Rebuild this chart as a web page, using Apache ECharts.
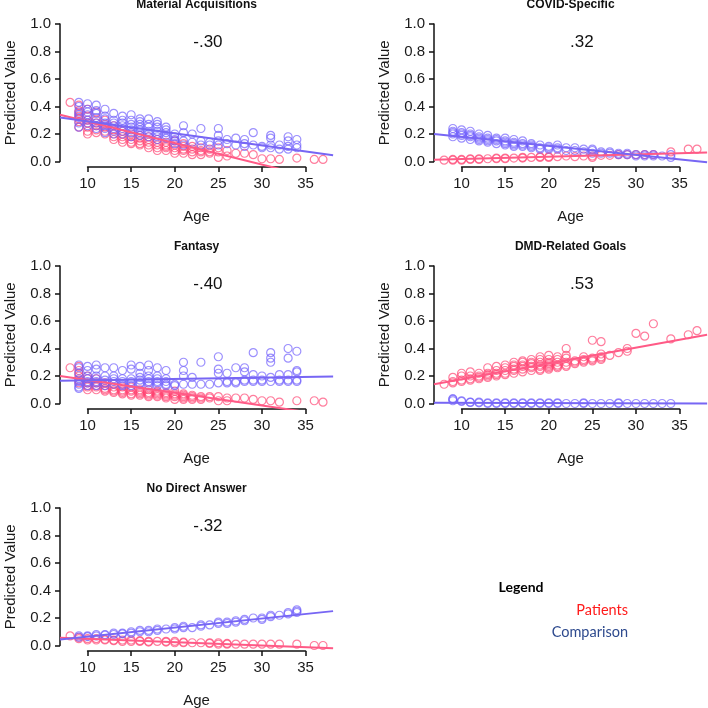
<!DOCTYPE html>
<html><head><meta charset="utf-8">
<script src="https://cdn.jsdelivr.net/npm/echarts@6/dist/echarts.min.js"></script>
<style>html,body{margin:0;padding:0;background:#fff}#c{width:708px;height:708px}</style>
</head><body><div id="c"></div>
<script>
// ---------------- DATA ----------------
const panelTitles = ['Material Acquisitions', 'COVID-Specific', 'Fantasy', 'DMD-Related Goals', 'No Direct Answer'];
const corrLabels = ['-.30', '.32', '-.40', '.53', '-.32'];
const xTicks = [10, 15, 20, 25, 30, 35];
const yTicks = [0, 0.2, 0.4, 0.6, 0.8, 1.0];
const ageRange = [6.84, 38.16];      // plotted age range (data 8–37 plus margin)
const valueRange = [-0.04, 1.04];    // plotted value range (0–1 plus margin)
const groupNames = ['Patients', 'Comparison'];

const matAcqPat = [[8,0.43],[9,0.41],[9,0.37],[9,0.35],[9,0.33],[9,0.31],[9,0.29],[9,0.25],[10,0.38],[10,0.33],[10,0.3],[10,0.28],[10,0.25],[10,0.22],[10,0.2],[11,0.36],[11,0.3],[11,0.28],[11,0.26],[11,0.23],[11,0.21],[12,0.3],[12,0.27],[12,0.25],[12,0.22],[12,0.2],[13,0.26],[13,0.23],[13,0.2],[13,0.18],[13,0.16],[14,0.22],[14,0.2],[14,0.18],[14,0.16],[14,0.14],[15,0.2],[15,0.18],[15,0.16],[15,0.14],[15,0.13],[16,0.19],[16,0.17],[16,0.15],[16,0.13],[16,0.12],[17,0.18],[17,0.16],[17,0.14],[17,0.12],[17,0.1],[18,0.16],[18,0.14],[18,0.12],[18,0.1],[18,0.08],[19,0.14],[19,0.12],[19,0.11],[19,0.1],[19,0.08],[20,0.15],[20,0.12],[20,0.1],[20,0.08],[20,0.06],[21,0.13],[21,0.11],[21,0.09],[21,0.08],[21,0.06],[22,0.11],[22,0.09],[22,0.07],[22,0.05],[23,0.1],[23,0.08],[23,0.07],[23,0.05],[24,0.09],[24,0.07],[24,0.06],[25,0.1],[25,0.07],[25,0.03],[26,0.08],[26,0.04],[27,0.06],[28,0.06],[29,0.05],[30,0.02],[31,0.02],[32,0.015],[34,0.025],[36,0.015],[37,0.015]];
const matAcqCmp = [[9,0.43],[9,0.4],[9,0.36],[9,0.34],[9,0.32],[9,0.28],[9,0.25],[10,0.42],[10,0.38],[10,0.36],[10,0.34],[10,0.3],[10,0.28],[10,0.26],[11,0.41],[11,0.37],[11,0.35],[11,0.32],[11,0.28],[11,0.26],[11,0.24],[12,0.38],[12,0.33],[12,0.31],[12,0.28],[12,0.26],[12,0.24],[12,0.21],[13,0.35],[13,0.3],[13,0.28],[13,0.26],[13,0.24],[13,0.22],[13,0.2],[14,0.33],[14,0.3],[14,0.28],[14,0.26],[14,0.24],[14,0.22],[14,0.2],[15,0.34],[15,0.3],[15,0.27],[15,0.25],[15,0.23],[15,0.21],[15,0.18],[16,0.31],[16,0.29],[16,0.27],[16,0.25],[16,0.23],[16,0.21],[16,0.19],[17,0.31],[17,0.27],[17,0.25],[17,0.22],[17,0.2],[17,0.18],[18,0.29],[18,0.27],[18,0.25],[18,0.22],[18,0.2],[18,0.18],[18,0.16],[19,0.25],[19,0.23],[19,0.21],[19,0.19],[19,0.17],[20,0.2],[20,0.18],[20,0.16],[20,0.15],[20,0.13],[21,0.26],[21,0.21],[21,0.15],[21,0.12],[22,0.2],[22,0.14],[23,0.24],[23,0.15],[23,0.12],[24,0.14],[24,0.12],[25,0.24],[25,0.19],[25,0.15],[25,0.12],[26,0.16],[26,0.13],[27,0.17],[27,0.12],[28,0.16],[28,0.13],[28,0.11],[29,0.21],[29,0.12],[30,0.11],[30,0.1],[31,0.19],[31,0.17],[31,0.12],[31,0.1],[32,0.12],[32,0.09],[33,0.18],[33,0.15],[33,0.11],[33,0.09],[34,0.16],[34,0.12],[34,0.1]];

const covidPat = [[8,0.01],[9,0.015],[9,0.01],[10,0.015],[10,0.01],[11,0.02],[11,0.015],[12,0.02],[12,0.015],[13,0.02],[14,0.025],[14,0.02],[15,0.025],[15,0.02],[16,0.025],[17,0.03],[17,0.025],[18,0.03],[19,0.03],[19,0.035],[20,0.035],[20,0.03],[21,0.035],[22,0.04],[23,0.035],[24,0.04],[25,0.04],[25,0.03],[26,0.045],[27,0.045],[28,0.05],[29,0.05],[30,0.05],[31,0.05],[32,0.05],[34,0.07],[36,0.09],[37,0.09]];
const covidCmp = [[9,0.24],[9,0.22],[9,0.21],[9,0.2],[9,0.18],[10,0.23],[10,0.21],[10,0.2],[10,0.19],[10,0.17],[11,0.22],[11,0.2],[11,0.19],[11,0.18],[11,0.16],[12,0.2],[12,0.18],[12,0.17],[12,0.16],[12,0.15],[13,0.19],[13,0.17],[13,0.16],[13,0.15],[13,0.14],[14,0.17],[14,0.16],[14,0.15],[14,0.13],[15,0.17],[15,0.15],[15,0.14],[15,0.13],[15,0.12],[16,0.16],[16,0.14],[16,0.13],[16,0.12],[16,0.11],[17,0.15],[17,0.13],[17,0.12],[17,0.11],[18,0.13],[18,0.12],[18,0.11],[18,0.1],[19,0.12],[19,0.1],[19,0.09],[20,0.11],[20,0.1],[20,0.09],[21,0.12],[21,0.1],[21,0.09],[22,0.1],[22,0.08],[23,0.1],[23,0.08],[24,0.09],[24,0.07],[25,0.09],[25,0.08],[25,0.06],[26,0.07],[26,0.06],[27,0.07],[27,0.06],[28,0.06],[28,0.05],[29,0.06],[29,0.05],[30,0.05],[30,0.04],[31,0.05],[31,0.04],[32,0.05],[32,0.04],[33,0.04],[34,0.05],[34,0.03]];

const fantasyPat = [[8,0.26],[9,0.27],[9,0.24],[9,0.22],[9,0.2],[9,0.17],[9,0.15],[10,0.2],[10,0.18],[10,0.15],[10,0.13],[10,0.12],[10,0.1],[11,0.18],[11,0.15],[11,0.13],[11,0.12],[11,0.1],[12,0.15],[12,0.13],[12,0.11],[12,0.1],[12,0.09],[13,0.14],[13,0.12],[13,0.1],[13,0.09],[13,0.08],[14,0.12],[14,0.1],[14,0.09],[14,0.08],[14,0.07],[15,0.12],[15,0.1],[15,0.09],[15,0.07],[15,0.06],[16,0.1],[16,0.09],[16,0.08],[16,0.07],[16,0.06],[17,0.1],[17,0.08],[17,0.07],[17,0.06],[17,0.05],[18,0.09],[18,0.08],[18,0.07],[18,0.06],[18,0.05],[19,0.08],[19,0.07],[19,0.06],[19,0.05],[19,0.04],[20,0.09],[20,0.07],[20,0.06],[20,0.05],[20,0.03],[21,0.07],[21,0.06],[21,0.05],[21,0.04],[21,0.03],[22,0.06],[22,0.05],[22,0.04],[22,0.03],[23,0.05],[23,0.04],[23,0.03],[24,0.05],[24,0.04],[25,0.05],[25,0.02],[26,0.04],[26,0.02],[27,0.04],[28,0.04],[29,0.03],[30,0.02],[31,0.02],[32,0.01],[34,0.02],[36,0.02],[37,0.01]];
const fantasyCmp = [[9,0.28],[9,0.26],[9,0.22],[9,0.18],[9,0.16],[9,0.14],[9,0.12],[9,0.11],[10,0.27],[10,0.24],[10,0.2],[10,0.18],[10,0.16],[10,0.15],[10,0.13],[11,0.28],[11,0.25],[11,0.2],[11,0.18],[11,0.16],[11,0.15],[11,0.13],[12,0.26],[12,0.2],[12,0.17],[12,0.15],[12,0.13],[13,0.26],[13,0.2],[13,0.18],[13,0.16],[13,0.14],[14,0.24],[14,0.18],[14,0.16],[14,0.14],[14,0.13],[15,0.28],[15,0.25],[15,0.18],[15,0.16],[15,0.15],[15,0.13],[16,0.27],[16,0.22],[16,0.19],[16,0.17],[16,0.15],[16,0.14],[17,0.28],[17,0.24],[17,0.2],[17,0.18],[17,0.16],[17,0.15],[17,0.13],[18,0.26],[18,0.2],[18,0.18],[18,0.16],[18,0.15],[18,0.13],[19,0.24],[19,0.18],[19,0.16],[19,0.14],[19,0.13],[20,0.14],[20,0.13],[21,0.3],[21,0.24],[21,0.2],[21,0.14],[22,0.19],[22,0.14],[23,0.3],[23,0.14],[24,0.14],[25,0.34],[25,0.25],[25,0.22],[25,0.15],[26,0.22],[26,0.16],[26,0.15],[27,0.26],[27,0.16],[27,0.15],[28,0.26],[28,0.23],[28,0.17],[28,0.16],[29,0.37],[29,0.21],[29,0.17],[29,0.16],[30,0.2],[30,0.17],[30,0.16],[31,0.37],[31,0.33],[31,0.3],[31,0.19],[31,0.16],[32,0.21],[32,0.17],[32,0.16],[33,0.4],[33,0.33],[33,0.21],[33,0.17],[33,0.16],[34,0.38],[34,0.24],[34,0.23],[34,0.17],[34,0.16]];

const dmdPat = [[8,0.14],[9,0.19],[9,0.16],[9,0.15],[10,0.22],[10,0.2],[10,0.17],[10,0.16],[11,0.23],[11,0.2],[11,0.18],[11,0.17],[12,0.22],[12,0.2],[12,0.19],[12,0.18],[13,0.26],[13,0.22],[13,0.21],[13,0.2],[13,0.19],[14,0.27],[14,0.24],[14,0.22],[14,0.21],[14,0.2],[15,0.28],[15,0.26],[15,0.24],[15,0.22],[15,0.21],[16,0.3],[16,0.28],[16,0.27],[16,0.25],[16,0.24],[16,0.22],[17,0.31],[17,0.3],[17,0.28],[17,0.27],[17,0.25],[17,0.23],[18,0.32],[18,0.3],[18,0.29],[18,0.27],[18,0.26],[18,0.24],[19,0.34],[19,0.32],[19,0.3],[19,0.28],[19,0.27],[19,0.25],[19,0.24],[20,0.35],[20,0.32],[20,0.3],[20,0.29],[20,0.28],[20,0.27],[20,0.26],[20,0.25],[21,0.34],[21,0.32],[21,0.3],[21,0.28],[21,0.27],[21,0.26],[22,0.4],[22,0.35],[22,0.33],[22,0.3],[22,0.28],[22,0.27],[23,0.31],[23,0.3],[23,0.29],[24,0.34],[24,0.32],[24,0.31],[24,0.3],[25,0.46],[25,0.33],[25,0.32],[25,0.31],[26,0.45],[26,0.36],[26,0.34],[26,0.33],[26,0.32],[27,0.35],[28,0.37],[29,0.4],[29,0.38],[30,0.51],[31,0.49],[32,0.58],[34,0.47],[36,0.5],[37,0.53]];
const dmdCmp = [[9,0.035],[9,0.03],[9,0.02],[10,0.02],[10,0.015],[11,0.01],[11,0.008],[12,0.01],[12,0.005],[13,0.005],[13,0.0],[14,0.005],[14,0.0],[15,0.005],[15,0.0],[16,0.005],[16,0.0],[17,0.005],[17,0.0],[18,0.005],[18,0.0],[19,0.005],[19,0.0],[20,0.005],[20,0.0],[21,0.005],[21,0.0],[22,0.0],[23,0.0],[24,0.005],[24,0.0],[25,0.0],[26,0.0],[27,0.0],[28,0.005],[28,0.0],[29,0.0],[30,0.0],[31,0.0],[32,0.0],[33,0.0],[34,0.0]];

const ndaPat = [[8,0.07],[9,0.06],[9,0.05],[10,0.05],[10,0.04],[11,0.05],[11,0.04],[12,0.045],[12,0.04],[13,0.04],[13,0.035],[14,0.04],[14,0.03],[15,0.04],[15,0.03],[16,0.035],[16,0.03],[17,0.03],[17,0.025],[18,0.03],[19,0.03],[19,0.025],[20,0.03],[20,0.02],[21,0.025],[21,0.02],[22,0.02],[23,0.02],[24,0.02],[24,0.015],[25,0.02],[25,0.01],[26,0.015],[26,0.01],[27,0.01],[28,0.01],[29,0.01],[30,0.01],[31,0.01],[32,0.01],[34,0.01],[36,0.0],[37,0.0]];
const ndaCmp = [[9,0.06],[9,0.07],[10,0.065],[10,0.07],[11,0.07],[11,0.08],[12,0.075],[12,0.08],[13,0.08],[13,0.09],[14,0.09],[14,0.085],[15,0.09],[15,0.1],[16,0.1],[16,0.11],[17,0.1],[17,0.11],[18,0.11],[18,0.12],[19,0.12],[20,0.12],[20,0.13],[21,0.13],[21,0.14],[22,0.13],[23,0.14],[23,0.15],[24,0.15],[25,0.16],[25,0.17],[26,0.17],[26,0.16],[27,0.17],[27,0.18],[28,0.19],[28,0.18],[29,0.2],[30,0.2],[30,0.19],[31,0.22],[31,0.21],[32,0.22],[33,0.24],[33,0.23],[34,0.26],[34,0.25],[34,0.24]];

// fitted line values at the left and right ends of the plotted age range
const matAcqPatFit = [0.34, -0.15];
const matAcqCmpFit = [0.32, 0.045];
const covidPatFit = [0.012, 0.065];
const covidCmpFit = [0.2, -0.005];
const fantasyPatFit = [0.2, -0.09];
const fantasyCmpFit = [0.165, 0.197];
const dmdPatFit = [0.14, 0.5];
const dmdCmpFit = [0.005, 0.0];
const ndaPatFit = [0.056, -0.02];
const ndaCmpFit = [0.044, 0.25];

const patPoints = [matAcqPat, covidPat, fantasyPat, dmdPat, ndaPat];
const cmpPoints = [matAcqCmp, covidCmp, fantasyCmp, dmdCmp, ndaCmp];
const patFits = [matAcqPatFit, covidPatFit, fantasyPatFit, dmdPatFit, ndaPatFit];
const cmpFits = [matAcqCmpFit, covidCmpFit, fantasyCmpFit, dmdCmpFit, ndaCmpFit];

// ---------------- LAYOUT / STYLE ----------------
const PINK = 'rgba(255,64,112,0.85)';
const PURPLE = 'rgba(110,92,252,0.85)';
const PINK_LINE = '#ff5a86';
const PURPLE_LINE = '#7766f4';
const FONT = 'Liberation Sans, Arial, sans-serif';
const PX_X = 8.72, PX_Y = 137.5;
const colLeft = [60, 434];
const rowTop = [24, 266, 508];  // pixel y of value 1.0 in each row
const corrAt = {age: 23.8, value: 0.87};

const chart = echarts.init(document.getElementById('c'), null, {renderer: 'canvas'});
const grids = [], xAxes = [], yAxes = [], series = [], graphics = [];
const x0 = ageRange[0], x1 = ageRange[1], v0 = valueRange[0], v1 = valueRange[1];
const tx0 = xTicks[0], tx1 = xTicks[xTicks.length - 1];
const ty0 = yTicks[0], ty1 = yTicks[yTicks.length - 1];

for (let i = 0; i < panelTitles.length; i++) {
  const col = i % 2, row = Math.floor(i / 2);
  const L = colLeft[col], T1 = rowTop[row];
  const W = (x1 - x0) * PX_X;
  // data grid (plot region)
  grids.push({left: L, top: T1 - (v1 - ty1) * PX_Y, width: W, height: (v1 - v0) * PX_Y, containLabel: false, outerBoundsMode: 'none'});
  // axis grid (spanning first to last tick)
  grids.push({left: L + (tx0 - x0) * PX_X, top: T1, width: (tx1 - tx0) * PX_X, height: (ty1 - ty0) * PX_Y, containLabel: false, outerBoundsMode: 'none'});
  const g = 2 * i;
  xAxes.push({gridIndex: g, type: 'value', min: x0, max: x1, show: false});
  yAxes.push({gridIndex: g, type: 'value', min: v0, max: v1, show: false});
  xAxes.push({
    gridIndex: g + 1, type: 'value', position: 'bottom', min: tx0, max: tx1, interval: xTicks[1] - xTicks[0],
    offset: (ty0 - v0) * PX_Y,
    axisLine: {show: true, onZero: false, lineStyle: {color: '#111', width: 1.5}},
    axisTick: {show: true, length: 5, lineStyle: {color: '#111', width: 1.5}},
    axisLabel: {show: true, margin: 9, fontSize: 15, color: '#1a1a1a', fontFamily: FONT},
    splitLine: {show: false},
    name: 'Age', nameLocation: 'middle', nameGap: 42,
    nameTextStyle: {fontSize: 15, color: '#1a1a1a', fontFamily: FONT}
  });
  yAxes.push({
    gridIndex: g + 1, type: 'value', position: 'left', min: ty0, max: ty1, interval: yTicks[1] - yTicks[0],
    offset: (tx0 - x0) * PX_X,
    axisLine: {show: true, onZero: false, lineStyle: {color: '#111', width: 1.5}},
    axisTick: {show: true, length: 5, lineStyle: {color: '#111', width: 1.5}},
    axisLabel: {show: true, margin: 9, fontSize: 15, color: '#1a1a1a', fontFamily: FONT, formatter: v => v.toFixed(1)},
    splitLine: {show: false},
    name: 'Predicted Value', nameLocation: 'middle', nameGap: 42,
    nameTextStyle: {fontSize: 15, color: '#1a1a1a', fontFamily: FONT}
  });
  const sc = (data, color, name) => ({
    type: 'scatter', name, xAxisIndex: g, yAxisIndex: g, data,
    symbol: 'circle', symbolSize: 8, silent: true,
    itemStyle: {color: 'rgba(0,0,0,0)', borderColor: color, borderWidth: 1.2}
  });
  const ln = (fit, color, name) => ({
    type: 'line', name, xAxisIndex: g, yAxisIndex: g,
    data: [[x0, fit[0]], [x1, fit[1]]],
    showSymbol: false, symbol: 'none', silent: true, clip: true,
    lineStyle: {color, width: 2}
  });
  series.push(sc(patPoints[i], PINK, groupNames[0]));
  series.push(sc(cmpPoints[i], PURPLE, groupNames[1]));
  series.push(ln(patFits[i], PINK_LINE, groupNames[0]));
  series.push(ln(cmpFits[i], PURPLE_LINE, groupNames[1]));

  graphics.push({type: 'text', x: L + W / 2, y: T1 - 19,
    style: {text: panelTitles[i], font: 'bold 12px ' + FONT, fill: '#111', textAlign: 'center', textVerticalAlign: 'middle'}});
  graphics.push({type: 'text', x: L + (corrAt.age - x0) * PX_X, y: T1 + (ty1 - corrAt.value) * PX_Y,
    style: {text: corrLabels[i], font: '17px ' + FONT, fill: '#111', textAlign: 'center', textVerticalAlign: 'middle'}});
}

// legend text block
graphics.push({type: 'text', x: 521, y: 587, style: {text: 'Legend', font: 'bold 14px Lato, sans-serif', fill: '#000', textAlign: 'center', textVerticalAlign: 'middle'}});
graphics.push({type: 'text', x: 628, y: 610, style: {text: groupNames[0], font: '14.5px Lato, sans-serif', fill: '#ff1a1a', textAlign: 'right', textVerticalAlign: 'middle'}});
graphics.push({type: 'text', x: 628, y: 632, style: {text: groupNames[1], font: '14.5px Lato, sans-serif', fill: '#2e4a8e', textAlign: 'right', textVerticalAlign: 'middle'}});

chart.setOption({
  animation: false,
  backgroundColor: '#fff',
  grid: grids, xAxis: xAxes, yAxis: yAxes, series,
  graphic: graphics
});
</script></body></html>
